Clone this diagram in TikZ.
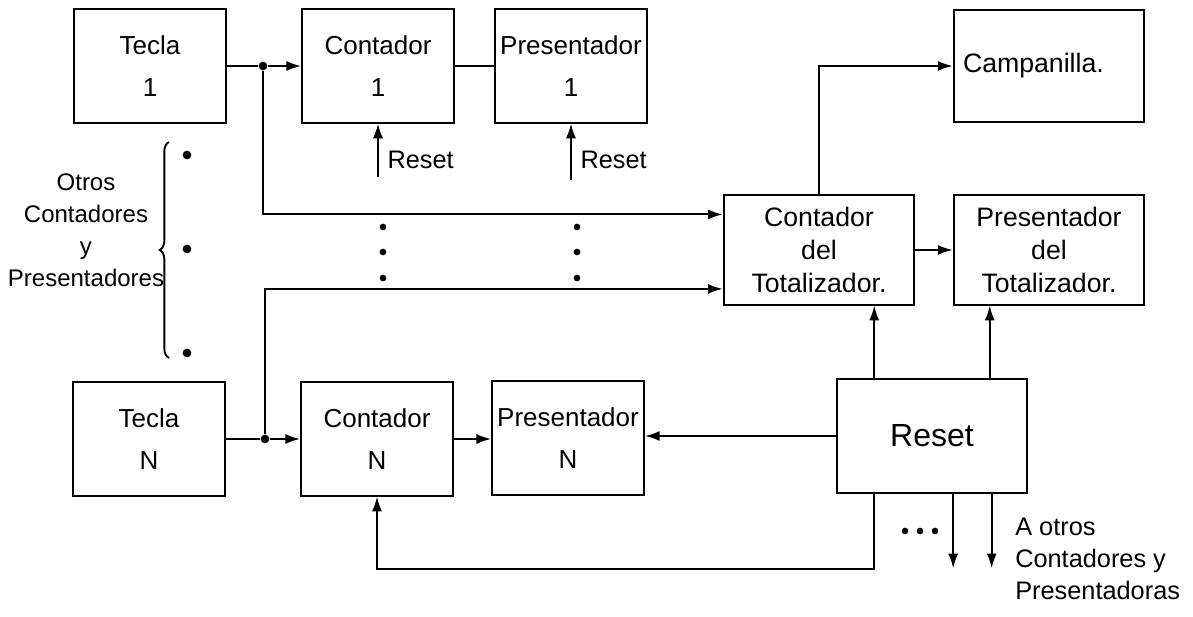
\documentclass[tikz,border=0pt]{standalone}
\usepackage{fontspec}
\setmainfont{Liberation Sans}
\usetikzlibrary{arrows.meta,positioning,calc,decorations.pathreplacing}

\begin{document}
\begin{tikzpicture}[x=0.75pt,y=-0.75pt,
    blk/.style={draw, line width=1.4pt, minimum width=114pt, minimum height=85pt, inner sep=1.5pt, align=center, font=\fontsize{19.5}{31}\selectfont},
    wideblk/.style={blk, minimum width=143pt, minimum height=82pt, font=\fontsize{20}{25}\selectfont},
    lbl/.style={font=\fontsize{19}{24}\selectfont, inner sep=0pt},
    wire/.style={line width=1.4pt},
    arr/.style={wire, -{Latex[length=11pt,width=7.5pt]}},
    dot/.style={circle, fill, inner sep=0pt, minimum size=6.5pt},
    sdot/.style={circle, fill, inner sep=0pt, minimum size=5pt}
  ]
  \useasboundingbox (0,0) rectangle (1193,617);
  % teclas, contadores y presentadores
  \node[blk] (tecla1) at (150,66) {Tecla\\1};
  \node[blk] (cont1) at (378,66) {Contador\\1};
  \node[blk] (pres1) at (571,66) {Presentador\\1};
  \node[blk] (teclaN) at (149,439) {Tecla\\N};
  \node[blk] (contN) at (377,439) {Contador\\N};
  \node[blk] (presN) at (568,438) {Presentador\\N};
  % totalizador
  \node[wideblk, minimum height=84pt, align=left, text width=129pt, inner xsep=7pt] (camp) at (1049,66) {Campanilla.};
  \node[wideblk] (conttot) at (819,250) {Contador\\del\\Totalizador.};
  \node[wideblk] (prestot) at (1049,250) {Presentador\\del\\Totalizador.};
  \node[wideblk, minimum height=86pt, font=\fontsize{24}{28}\selectfont] (rst) at (932,436) {Reset};

  % entradas
  \node[dot] (j1) at (263,66) {};
  \node[dot] (jN) at (265,439) {};
  \draw[wire] (tecla1) -- (j1);
  \draw[arr] (j1) -- (cont1);
  \draw[wire] (cont1) -- (pres1);
  \draw[wire] (teclaN) -- (jN);
  \draw[arr] (jN) -- (contN);
  \draw[arr] (contN.east) -- (contN.east -| presN.west);
  \draw[arr] (j1) |- ($(conttot.north west)!0.18!(conttot.south west)$);
  \draw[arr] (jN) |- ($(conttot.north west)!0.85!(conttot.south west)$);

  % reset de la fila 1
  \coordinate (r1) at ([yshift=-40pt]cont1.south);
  \coordinate (r2) at ([yshift=-42pt]pres1.south);
  \draw[arr] (r1) -- (cont1.south);
  \draw[arr] (r2) -- (pres1.south);
  \node[lbl, anchor=west] (lr1) at ([xshift=7pt,yshift=13pt]r1) {Reset};
  \node[lbl, anchor=west] (lr2) at ([xshift=7pt,yshift=15pt]r2) {Reset};

  % totalizador y campanilla
  \draw[arr] (conttot.north) |- (camp.west);
  \draw[arr] (conttot) -- (prestot);
  \coordinate (ru1) at ($(rst.north west)!0.2!(rst.north east)$);
  \coordinate (ru2) at ($(rst.north west)!0.8!(rst.north east)$);
  \draw[arr] (ru1) -- (ru1 |- conttot.south);
  \draw[arr] (ru2) -- (ru2 |- prestot.south);
  \draw[arr] (rst.west) -- (rst.west -| presN.east);
  \coordinate (rd0) at ($(rst.south west)!0.2!(rst.south east)$);
  \draw[arr] (rd0) |- ([yshift=-54pt]contN.south) -- (contN.south);
  \coordinate (rd1) at ($(rst.south west)!0.61!(rst.south east)$);
  \coordinate (rd2) at ($(rst.south west)!0.81!(rst.south east)$);
  \draw[arr] (rd1) -- ++(0,74);
  \draw[arr] (rd2) -- ++(0,74);
  \foreach \i in {0,1,2} {\node[sdot] (e\i) at (905+15*\i,531) {};}
  \node[lbl, anchor=north west, align=left] (aotros) at (1015,518) {A otros\\Contadores y\\Presentadoras};

  % otros contadores
  \node[lbl, align=center, font=\fontsize{18}{24}\selectfont] (otros) at (86,230) {Otros\\Contadores\\y\\Presentadores};
  \draw[wire, decorate, decoration={brace, amplitude=7pt}] (169,358) -- (169,142);
  \foreach \y/\n in {155/a,249/b,353/c} {\node[dot] (bd\n) at (187,\y) {};}
  \foreach \y [count=\k] in {227,252,278} {
    \node[sdot] (va\k) at (383,\y) {};
    \node[sdot] (vb\k) at (577,\y) {};
  }
\end{tikzpicture}
\end{document}
